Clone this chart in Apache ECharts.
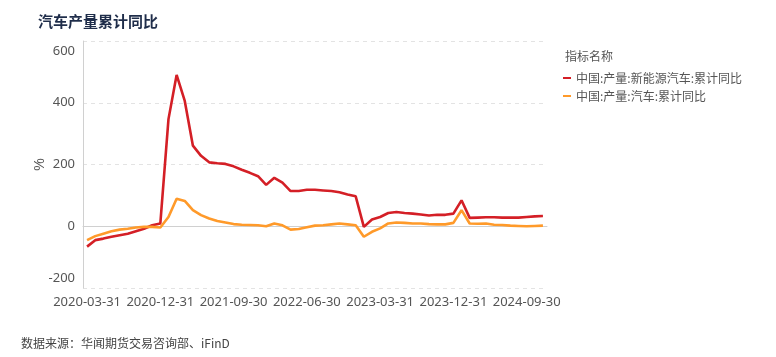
<!DOCTYPE html>
<html>
<head>
<meta charset="utf-8">
<script src="https://cdn.jsdelivr.net/npm/echarts@6/dist/echarts.min.js"></script>
<style>
html,body{margin:0;padding:0;background:#fff;}
#c{width:776px;height:357px;}
</style>
</head>
<body>
<div id="c"></div>
<script>
// Monthly categories 2020-03 .. 2024-11
const categories = [
 '2020-03-31','2020-04-30','2020-05-31','2020-06-30','2020-07-31','2020-08-31','2020-09-30','2020-10-31','2020-11-30','2020-12-31',
 '2021-01-31','2021-02-28','2021-03-31','2021-04-30','2021-05-31','2021-06-30','2021-07-31','2021-08-31','2021-09-30','2021-10-31','2021-11-30','2021-12-31',
 '2022-01-31','2022-02-28','2022-03-31','2022-04-30','2022-05-31','2022-06-30','2022-07-31','2022-08-31','2022-09-30','2022-10-31','2022-11-30','2022-12-31',
 '2023-01-31','2023-02-28','2023-03-31','2023-04-30','2023-05-31','2023-06-30','2023-07-31','2023-08-31','2023-09-30','2023-10-31','2023-11-30','2023-12-31',
 '2024-01-31','2024-02-29','2024-03-31','2024-04-30','2024-05-31','2024-06-30','2024-07-31','2024-08-31','2024-09-30','2024-10-31','2024-11-30'
];
const nevYoY = [
 -66,-45,-40,-34,-29,-24,-16,-8,3,9,
 347,490,406,261,228,207,204,202,194,183,173,162,
 134,157,141,114,114,118,118,116,114,110,103,97,
 -2,22,30,43,46,43,41,38,35,37,37,41,
 84,27,28,29,29,28,28,28,30,32,33
];
const autoYoY = [
 -45,-32,-24,-16,-11,-8,-4,-2,-2,-4,
 30,89,82,52,36,25,17,12,7,5,4,3,
 0,9,3,-11,-9,-3,2,3,6,9,6,3,
 -34,-18,-7,9,12,11,9,9,7,6,6,11,
 52,9,8,9,5,4,2,1,0,1,2
];
const seriesNames = ['中国:产量:新能源汽车:累计同比','中国:产量:汽车:累计同比'];
const yTicks = {min:-200, max:600, interval:200};

const chart = echarts.init(document.getElementById('c'));
chart.setOption({
  animation:false,
  backgroundColor:'#fff',
  title:[
    {text:'汽车产量累计同比', left:33, top:9, textStyle:{fontSize:15, fontWeight:'bold', color:'#1f2d4a', fontFamily:'Noto Sans CJK SC'}},
    {text:'指标名称', left:560, top:45, textStyle:{fontSize:12, fontWeight:'normal', color:'#555', fontFamily:'Noto Sans CJK SC'}},
    {text:'数据来源：华闻期货交易咨询部、iFinD', left:16, top:332, textStyle:{fontSize:12, fontWeight:'normal', color:'#444', fontFamily:'Noto Sans CJK SC'}}
  ],
  legend:{
    orient:'vertical', left:558, top:67, itemGap:6,
    icon:'rect', itemWidth:8, itemHeight:2,
    textStyle:{fontSize:12, color:'#555', fontFamily:'Noto Sans CJK SC'},
    data:seriesNames
  },
  grid:{left:83, right:229, top:41, bottom:69, containLabel:false},
  xAxis:{
    type:'category', data:categories, boundaryGap:true,
    axisLine:{lineStyle:{color:'#d0d0d0'}},
    axisTick:{show:false},
    axisLabel:{interval:8, color:'#555', fontSize:13, margin:8, fontFamily:'Noto Sans'}
  },
  yAxis:{
    type:'value', min:yTicks.min, max:yTicks.max, interval:yTicks.interval,
    name:'%', nameLocation:'middle', nameGap:36, nameRotate:90, nameMoveOverlap:false,
    nameTextStyle:{color:'#555', fontSize:14},
    axisLine:{show:true, lineStyle:{color:'#d0d0d0'}},
    axisTick:{show:false},
    axisLabel:{color:'#555', fontSize:13, margin:8, lineHeight:20, fontFamily:'Noto Sans', verticalAlignMaxLabel:'top', verticalAlignMinLabel:'bottom'},
    splitLine:{lineStyle:{color:'#e3e3e3', type:[4,4]}}
  },
  series:[
    {name:seriesNames[0], type:'line', data:nevYoY, showSymbol:false, symbol:'none', lineStyle:{width:2.6, color:'#d41f26'}, itemStyle:{color:'#d41f26'}},
    {name:seriesNames[1], type:'line', data:autoYoY, showSymbol:false, symbol:'none', lineStyle:{width:2.6, color:'#ff9a2a'}, itemStyle:{color:'#ff9a2a'}}
  ]
});
</script>
</body>
</html>
